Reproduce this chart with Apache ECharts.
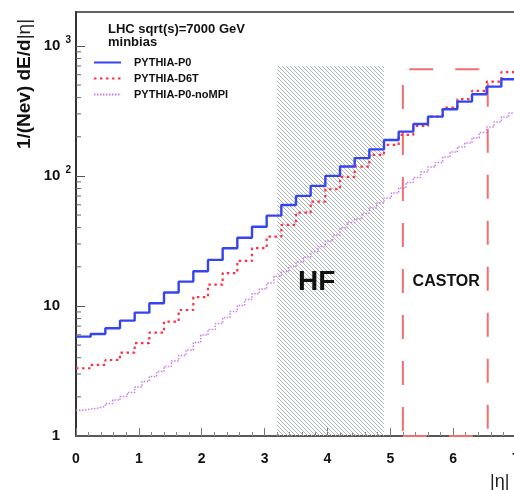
<!DOCTYPE html>
<html>
<head>
<meta charset="utf-8">
<script src="https://cdn.jsdelivr.net/npm/echarts@6/dist/echarts.min.js"></script>
<style>
  html, body { margin: 0; padding: 0; background: #fff; }
  #chart { width: 514px; height: 490px; }
</style>
</head>
<body>
<div id="chart"></div>
<script>
// eta range and bin contents
const etaMax = 7;
const P0 = [5.81, 6.09, 6.74, 7.71, 8.88, 10.5, 12.7, 15.4, 18.5, 22.6, 27.8, 33.5, 40.7, 49.5, 59.8,
  70.2, 83.8, 100, 118, 137, 160, 189, 219, 251, 286, 326, 373, 425, 486, 554];
const D6T = [3.32, 3.52, 3.84, 4.37, 5.17, 6.23, 7.57, 9.31, 11.7, 14.6, 17.9, 22.2, 27.8, 34.1, 42.0,
  52.2, 63.4, 79.0, 98.2, 118, 145, 173, 207, 242, 286, 335, 389, 451, 531, 628];
const NOMPI = [1.58, 1.61, 1.64, 1.69, 1.78, 1.89, 2.01, 2.16, 2.38, 2.63,
  2.87, 3.13, 3.43, 3.78, 4.16, 4.59, 5.24, 5.98, 6.59, 7.33,
  8.16, 9.07, 10.1, 11.2, 12.4, 13.5, 15.0, 16.9, 18.4, 20.1,
  21.8, 23.8, 26.2, 28.7, 31.6, 35.2, 39.8, 43.9, 46.7, 51.5,
  56.7, 62.0, 67.7, 74.0, 80.9, 89.1, 97.3, 107, 117, 127,
  140, 153, 167, 179, 196, 216, 238, 260, 284, 305];

// detector regions: [eta from, eta to, top]
const hfRange = [3.2, 4.9, 700];
const castorRange = [5.2, 6.55, 660];

const xTicks = [0, 1, 2, 3, 4, 5, 6, 7];
const yMinorTicks = [2, 3, 4, 5, 6, 7, 8, 9, 20, 30, 40, 50, 60, 70, 80, 90,
  200, 300, 400, 500, 600, 700, 800, 900];

// 直方图: 每个 bin 左边界一个点, 最后补一个右边界点
function histo(vals) {
  const w = etaMax / vals.length;
  const pts = vals.map((v, i) => [i * w, v]);
  pts.push([etaMax, vals[vals.length - 1]]);
  return pts;
}

// 斜线填充
function hatch() {
  const s = 4;
  const c = document.createElement("canvas");
  c.width = s; c.height = s;
  const ctx = c.getContext("2d");
  ctx.strokeStyle = "#a3b0b0";
  ctx.lineWidth = 0.9;
  for (let k = -1; k <= 1; k++) {
    ctx.beginPath();
    ctx.moveTo(k * s, 0);
    ctx.lineTo(k * s + s, s);
    ctx.stroke();
  }
  return c;
}

const font = "Liberation Sans, Arial, sans-serif";
const chart = echarts.init(document.getElementById("chart"));

const option = {
  animation: false,
  textStyle: { fontFamily: font },
  grid: {
    left: 76, top: 12, width: 440, height: 424,
    outerBoundsMode: "none",
    containLabel: false,
    show: true, borderColor: "#333", borderWidth: 1.5,
  },
  legend: {
    orient: "vertical",
    left: 88,
    top: 52,
    itemWidth: 27,
    itemHeight: 10,
    itemGap: 5,
    itemStyle: { opacity: 0 },
    data: ["PYTHIA-P0", "PYTHIA-D6T", "PYTHIA-P0-noMPI"],
    textStyle: { fontFamily: font, fontWeight: "bold", fontSize: 11, color: "#111", padding: [0, 0, 0, 8] },
  },
  graphic: [
    { type: "text", left: 108, top: 23, style: { text: "LHC sqrt(s)=7000 GeV", font: "bold 13px " + font, fill: "#111" } },
    { type: "text", left: 108, top: 36, style: { text: "minbias", font: "bold 13px " + font, fill: "#111" } },
    { type: "text", x: 25, y: 84, rotation: Math.PI / 2,
      style: {
        text: "{b|1/(Nev) dE/d}{n||η|}",
        align: "center", verticalAlign: "middle",
        rich: {
          b: { fontSize: 19, fontWeight: "bold", fill: "#111", fontFamily: font },
          n: { fontSize: 19, fill: "#222", fontFamily: font },
        },
      } },
    { type: "text", left: 490, top: 473, style: { text: "|η|", font: "18px " + font, fill: "#222" } },
  ],
  xAxis: {
    type: "value",
    min: 0,
    max: etaMax,
    interval: 1,
    axisLine: { lineStyle: { color: "#555", width: 1.5 } },
    axisTick: { inside: true, length: 8, lineStyle: { color: "#777" } },
    minorTick: { show: true, splitNumber: 5, length: 4, lineStyle: { color: "#888" } },
    splitLine: { show: false },
    axisLabel: {
      margin: 16,
      fontSize: 14,
      fontWeight: "bold",
      color: "#111",
      formatter: (v) => (xTicks.includes(v) ? String(v) : ""),
    },
  },
  yAxis: {
    type: "log",
    logBase: 10,
    min: 1,
    max: 1822,
    axisLine: { lineStyle: { color: "#333", width: 2 } },
    axisTick: { inside: true, length: 9, lineStyle: { color: "#555" } },
    splitLine: { show: false },
    axisLabel: {
      margin: 5,
      showMaxLabel: false,
      formatter: (v) => {
        const e = Math.round(Math.log10(v));
        if (e === 0) return "{p|1}";
        if (e === 1) return "{p|10}";
        return "{b|10}{s|" + e + "}";
      },
      rich: {
        p: { fontSize: 15, fontWeight: "bold", color: "#111", fontFamily: font, padding: [0, 11, 0, 0] },
        b: { fontSize: 15, fontWeight: "bold", color: "#111", fontFamily: font },
        s: { fontSize: 10, fontWeight: "bold", color: "#111", fontFamily: font, padding: [0, 0, 11, 5] },
      },
    },
  },
  series: [
    {
      name: "hf",
      type: "line",
      data: [],
      z: 1,
      markArea: {
        silent: true,
        itemStyle: { color: { image: hatch(), repeat: "repeat" } },
        data: [[{ xAxis: hfRange[0], yAxis: 1 }, { xAxis: hfRange[1], yAxis: hfRange[2] }]],
      },
      markPoint: {
        silent: true,
        symbol: "circle",
        symbolSize: 0,
        label: { show: true, formatter: "HF", fontSize: 28, fontWeight: "bold", color: "#111", fontFamily: font },
        data: [{ coord: [3.83, 15.3] }],
      },
    },
    {
      name: "castor",
      type: "line",
      data: [],
      z: 1,
      markArea: {
        silent: true,
        itemStyle: { color: "rgba(0,0,0,0)", borderColor: "#f07070", borderWidth: 2, borderType: [24, 22] },
        data: [[{ xAxis: castorRange[0], yAxis: 1 }, { xAxis: castorRange[1], yAxis: castorRange[2] }]],
      },
      markPoint: {
        silent: true,
        symbol: "circle",
        symbolSize: 0,
        label: { show: true, formatter: "CASTOR", fontSize: 16, fontWeight: "bold", color: "#111", fontFamily: font },
        data: [{ coord: [5.89, 15.3] }],
      },
    },
    {
      name: "PYTHIA-P0-noMPI",
      type: "line",
      step: "end",
      symbol: "none",
      data: histo(NOMPI),
      z: 3,
      lineStyle: { color: "#c97cf0", width: 1.5, type: [1.5, 1.5] },
      itemStyle: { color: "#c97cf0" },
    },
    {
      name: "PYTHIA-D6T",
      type: "line",
      step: "end",
      symbol: "none",
      data: histo(D6T),
      z: 4,
      lineStyle: { color: "#ff3048", width: 2.2, type: [2.5, 3.5] },
      itemStyle: { color: "#ff3048" },
    },
    {
      name: "PYTHIA-P0",
      type: "line",
      step: "end",
      symbol: "none",
      data: histo(P0),
      z: 5,
      lineStyle: { color: "#3445ee", width: 2.4 },
      itemStyle: { color: "#3445ee" },
    },
    {
      name: "yminor",
      type: "custom",
      silent: true,
      z: 6,
      data: yMinorTicks.map((v) => [0, v]),
      renderItem: (params, api) => {
        const p = api.coord([0, api.value(1)]);
        return {
          type: "line",
          shape: { x1: p[0], y1: p[1], x2: p[0] + 5, y2: p[1] },
          style: { stroke: "#666", lineWidth: 1 },
        };
      },
    },
  ],
};

chart.setOption(option);
window.addEventListener("resize", () => chart.resize());
</script>
</body>
</html>
